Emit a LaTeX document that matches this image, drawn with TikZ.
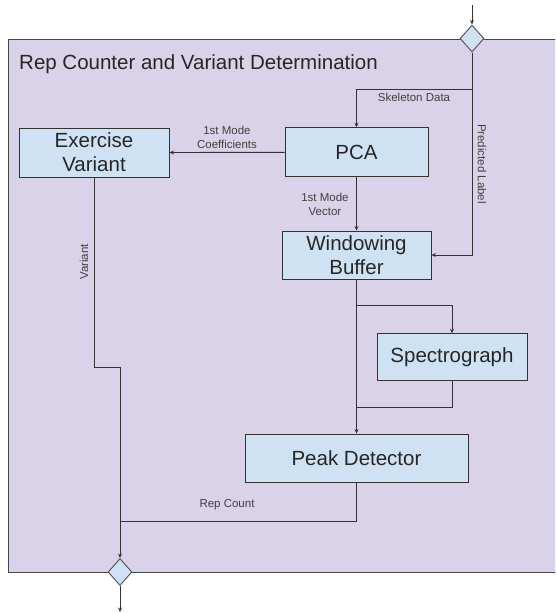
\documentclass[tikz,border=0pt]{standalone}
\usepackage{fontspec}
\setmainfont{Liberation Sans}
\usetikzlibrary{shapes.geometric,arrows.meta}
\definecolor{panel}{HTML}{D9D2E9}
\definecolor{boxfill}{HTML}{CFE2F3}
\definecolor{edge}{HTML}{333333}
\definecolor{labelgray}{HTML}{404040}
\tikzset{
  procbox/.style={draw=edge, line width=1pt, fill=boxfill, inner sep=0pt,
    align=center, font=\fontsize{20.5}{23.7}\selectfont, text=black!85},
  gate/.style={shape=diamond, draw=edge!80, line width=1pt, fill=boxfill,
    inner sep=0pt, minimum width=24pt, minimum height=27pt},
  conn/.style={draw=edge, line width=0.9pt},
  flow/.style={conn, -{Stealth[length=4.5pt,width=4pt]}},
  tag/.style={font=\fontsize{11.5}{13.6}\selectfont, text=labelgray, align=center, inner sep=0pt}
}
\begin{document}
\begin{tikzpicture}[x=1pt,y=-1pt]
\useasboundingbox (0,0) rectangle (555,613);
\begin{scope}
\clip (0,0) rectangle (555,613);
% container panel
\node[draw=edge!90, line width=1.1pt, fill=panel, anchor=north west, inner sep=0pt,
  minimum width=560pt, minimum height=533.5pt] (frame) at (8,38.5) {};
\end{scope}
\node[anchor=base west, inner sep=0pt, font=\fontsize{20.5}{24}\selectfont, text=black!85]
  (title) at (19,69) {Rep Counter and Variant Determination};

% gateways
\node[gate] (topd) at (472,38.5) {};
\node[gate] (botd) at (120,572) {};
\coordinate (topin) at (472,5);
\coordinate (botout) at (120,612);

% processing blocks
\node[procbox, minimum width=150pt, minimum height=49pt] (ev) at (94,152.5) {Exercise\\Variant};
\node[procbox, minimum width=143pt, minimum height=49pt] (pca) at (356.5,152.3) {PCA};
\node[procbox, minimum width=149pt, minimum height=48pt] (wb) at (356.5,255) {Windowing\\Buffer};
\node[procbox, minimum width=150pt, minimum height=47pt] (sp) at (452,357.3) {Spectrograph};
\node[procbox, minimum width=223pt, minimum height=48.5pt] (pd) at (356.5,458.3) {Peak Detector};

% routing points
\coordinate (skel) at (472,89.3);
\coordinate (branch) at (356.5,305.7);
\coordinate (merge) at (356.5,407);
\coordinate (jogA) at (94,367.8);
\coordinate (jogB) at (120,367.8);
\coordinate (count) at (120,521);

% connectors
\draw[flow] (topin) -- (topd.north);
\draw[flow] (topd.south) -- (skel) -| (pca.north);
\draw[flow] (topd.south) |- (wb.east);
\draw[flow] (pca.west) -- (ev.east);
\draw[flow] (pca.south) -- (wb.north);
\draw[flow] (wb.south) -- (pd.north);
\draw[flow] (branch) -| (sp.north);
\draw[conn] (sp.south) |- (merge);
\draw[conn] (pd.south) |- (count);
\draw[flow] (ev.south) -- (jogA) -- (jogB) -- (botd.north);
\draw[flow] (botd.south) -- (botout);

% connector labels
\node[tag] (lskel) at (414,97) {Skeleton Data};
\node[tag, rotate=-90] (lpred) at (482,164) {Predicted Label};
\node[tag] (lcoef) at (227,137.5) {1st Mode\\Coefficients};
\node[tag] (lvec) at (325,204.5) {1st Mode\\Vector};
\node[tag, rotate=90] (lvar) at (84,262) {Variant};
\node[tag] (lrep) at (227,505) {Rep Count};
\end{tikzpicture}
\end{document}
